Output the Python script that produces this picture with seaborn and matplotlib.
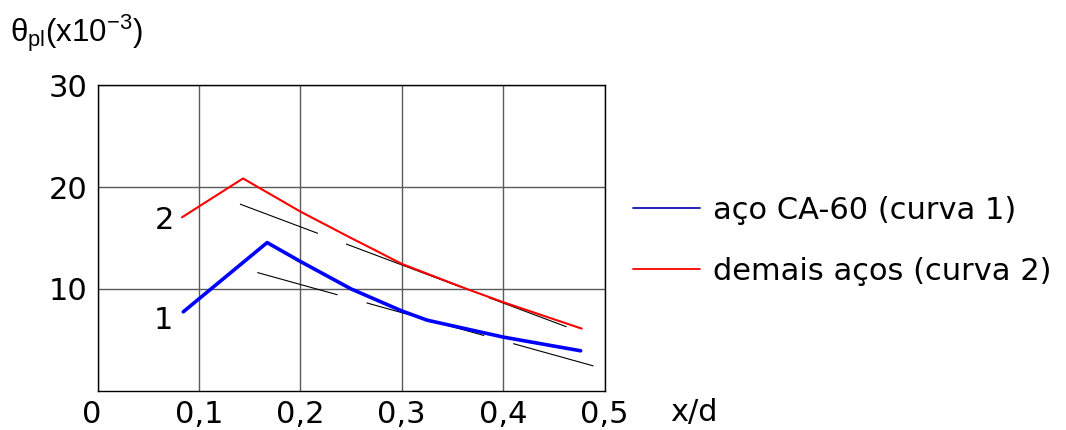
import matplotlib
matplotlib.use('Agg')
import matplotlib.pyplot as plt
import matplotlib.transforms as mtransforms
import seaborn as sns
import pandas as pd
from matplotlib.lines import Line2D

# ---- data ----
curve1_x = [0.0846, 0.1673, 0.200, 0.250, 0.300, 0.325, 0.400, 0.4765]
curve1_y = [7.75, 14.55, 12.7, 10.0, 7.84, 6.93, 5.27, 3.92]
curve2_x = [0.0833, 0.1435, 0.200, 0.250, 0.2687, 0.300, 0.364, 0.400, 0.4775]
curve2_y = [17.03, 20.85, 17.6, 15.0, 14.06, 12.46, 10.0, 8.7, 6.1]
tangent1_x = [0.1576, 0.4896]
tangent1_y = [11.61, 2.42]
tangent2_x = [0.1405, 0.4627]
tangent2_y = [18.33, 6.27]
x_ticks = [0, 0.1, 0.2, 0.3, 0.4, 0.5]
x_tick_labels = ['0', '0,1', '0,2', '0,3', '0,4', '0,5']
y_ticks = [10, 20, 30]
y_tick_labels = ['10', '20', '30']
legend_labels = ['aço CA-60 (curva 1)', 'demais aços (curva 2)']
curve_tags = ['1', '2']
curve_tag_x = [0.0646, 0.066]
curve_tag_y = [6.9, 16.7]

sns.set_style('white')
plt.rcParams['font.family'] = ['DejaVu Sans']
plt.rcParams['mathtext.fontset'] = 'custom'
plt.rcParams['mathtext.rm'] = 'Liberation Sans'
plt.rcParams['mathtext.default'] = 'regular'
plt.rcParams['lines.scale_dashes'] = False
plt.rcParams['text.color'] = 'black'

fs = 22

fig = plt.figure(figsize=(10.66, 4.30), dpi=100)
ax = fig.add_axes([97.5 / 1066, 1 - 390.7 / 430, 507 / 1066, 305.4 / 430])

df1 = pd.DataFrame({'x': curve1_x, 'y': curve1_y})
df2 = pd.DataFrame({'x': curve2_x, 'y': curve2_y})
dt1 = pd.DataFrame({'x': tangent1_x, 'y': tangent1_y})
dt2 = pd.DataFrame({'x': tangent2_x, 'y': tangent2_y})

dash = (0, (60, 21.6, 88, 21.6, 60, 200))
sns.lineplot(data=dt1, x='x', y='y', ax=ax, color='black', lw=0.8,
             linestyle=dash, sort=False, estimator=None, zorder=3)
sns.lineplot(data=dt2, x='x', y='y', ax=ax, color='black', lw=0.8,
             linestyle=dash, sort=False, estimator=None, zorder=3)
sns.lineplot(data=df2, x='x', y='y', ax=ax, color='#ff0000', lw=1.5,
             sort=False, estimator=None, zorder=4)
sns.lineplot(data=df1, x='x', y='y', ax=ax, color='#0000ff', lw=2.6,
             sort=False, estimator=None, zorder=4)

ax.set_xlim(0, 0.5)
ax.set_ylim(0, 30)
ax.set_xticks(x_ticks)
ax.set_xticklabels(x_tick_labels)
ax.set_yticks(y_ticks)
ax.set_yticklabels(y_tick_labels)
ax.tick_params(axis='both', length=0, labelsize=fs, colors='black')
ax.tick_params(axis='x', pad=7)
ax.tick_params(axis='y', pad=7)
ax.set_xlabel('')
ax.set_ylabel('')
ax.grid(True, color='#5a5a5a', lw=1.0)
for s in ax.spines.values():
    s.set_visible(True)
    s.set_color('black')
    s.set_linewidth(1.0)

# origin label sits slightly left of the axis corner
lbl0 = ax.get_xticklabels()[0]
lbl0.set_transform(lbl0.get_transform() +
                   mtransforms.ScaledTranslation(-6 / 100, 0, fig.dpi_scale_trans))

for t, tx, ty in zip(curve_tags, curve_tag_x, curve_tag_y):
    ax.text(tx, ty, t, fontsize=fs, ha='center', va='center', color='black')

ax.text(0.588, -2.1, 'x/d', fontsize=fs, ha='center', va='center', clip_on=False)
fig.text(10 / 1066, 1 - 33 / 430, r'θ$_{pl}$(x10$^{-3}$)', fontsize=22.5,
         ha='left', va='center', color='black', family=['Liberation Sans'])

handles = [Line2D([], [], color='#1010b0', lw=1.3),
           Line2D([], [], color='#ff0000', lw=1.3)]
leg = fig.legend(handles, legend_labels, loc='center left',
                 bbox_to_anchor=(633 / 1066, 1 - 241 / 430), frameon=False,
                 fontsize=fs, handlelength=2.2, handletextpad=0.43,
                 labelspacing=1.05, borderpad=0, borderaxespad=0)
for t in leg.get_texts():
    t.set_color('black')

fig.savefig('out.png', dpi=100)
